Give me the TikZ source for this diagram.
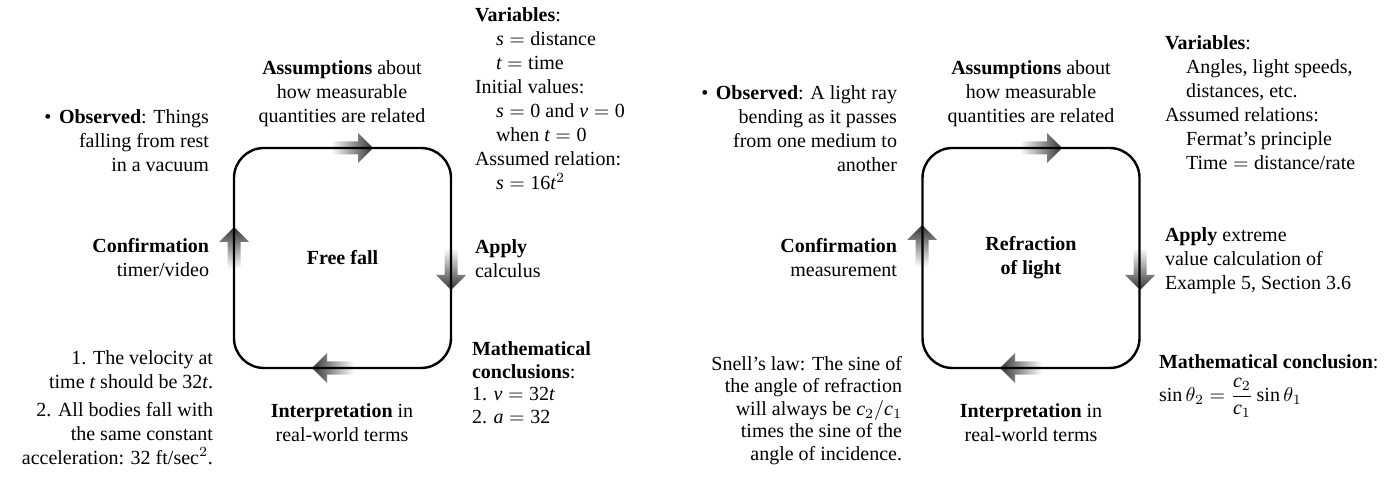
\documentclass[tikz,border=0pt]{standalone}
\usepackage{fontspec}
\setmainfont{Liberation Serif}
\usetikzlibrary{calc}
\newcommand{\mi}[1]{\ensuremath{\mathit{#1}}}
\newcommand{\eq}{\ensuremath{{}={}}}
\newcommand{\ind}{\hspace*{10.5pt}}
\newcommand{\bul}{\textbullet\hspace{3.8pt}}
% fuzzy arrows, tip at (#1,#2)
\newcommand{\fzR}[2]{\shade[fuzzR] (#1,#2) -- ({#1-15},{#2-15}) -- ({#1-15},{#2-6.5}) -- ({#1-42},{#2-6.5}) -- ({#1-42},{#2+6.5}) -- ({#1-15},{#2+6.5}) -- ({#1-15},{#2+15}) -- cycle;}
\newcommand{\fzL}[2]{\shade[fuzzL] (#1,#2) -- ({#1+15},{#2-15}) -- ({#1+15},{#2-6.5}) -- ({#1+42},{#2-6.5}) -- ({#1+42},{#2+6.5}) -- ({#1+15},{#2+6.5}) -- ({#1+15},{#2+15}) -- cycle;}
\newcommand{\fzD}[2]{\shade[fuzzD] (#1,#2) -- ({#1-15},{#2-15}) -- ({#1-6.5},{#2-15}) -- ({#1-6.5},{#2-42}) -- ({#1+6.5},{#2-42}) -- ({#1+6.5},{#2-15}) -- ({#1+15},{#2-15}) -- cycle;}
\newcommand{\fzU}[2]{\shade[fuzzU] (#1,#2) -- ({#1-15},{#2+15}) -- ({#1-6.5},{#2+15}) -- ({#1-6.5},{#2+42}) -- ({#1+6.5},{#2+42}) -- ({#1+6.5},{#2+15}) -- ({#1+15},{#2+15}) -- cycle;}
\begin{document}
\begin{tikzpicture}[x=0.5pt,y=-0.5pt,
  font=\fontsize{10}{12}\selectfont,
  txt/.style={inner sep=0pt, outer sep=0pt},
  tight/.style={font=\fontsize{10}{11.25}\selectfont},
  cyclebox/.style={draw, line width=1.2pt, rounded corners=15pt, minimum width=108.5pt, minimum height=110pt, inner sep=0pt, align=center},
  fuzzR/.style={left color=white, middle color=black!45, right color=black!80},
  fuzzL/.style={right color=white, middle color=black!45, left color=black!80},
  fuzzD/.style={top color=white, middle color=black!45, bottom color=black!80},
  fuzzU/.style={bottom color=white, middle color=black!45, top color=black!80}]
\useasboundingbox (0,0) rectangle (1396,480);

% ---------- left cycle ----------
\fzR{373}{148}
\fzD{451}{290}
\fzL{312}{368}
\fzU{234}{227}
\node[cyclebox] (box1) at (342.5,258) {\textbf{Free fall}};

\node[txt, anchor=north east, align=right] (obs1) at (209,110)
  {\bul\textbf{Observed}: Things\\falling from rest\\in a vacuum};
\node[txt, anchor=north, align=center] (ass1) at (342,61)
  {\textbf{Assumptions} about\\how measurable\\quantities are related};
\node[txt, anchor=north west, align=left] (var1) at (475,8)
  {\textbf{Variables}:\\
   \ind\mi{s}\eq distance\\
   \ind\mi{t}\eq time\\
   Initial values:\\
   \ind\mi{s}\eq 0 and \mi{v}\eq 0\\
   \ind when \mi{t}\eq 0\\
   Assumed relation:\\
   \ind\mi{s}\eq 16\mi{t}$^{2}$};
\node[txt, anchor=north east, align=right] (conf1) at (209,238)
  {\textbf{Confirmation}\\timer/video};
\node[txt, anchor=north west, align=left] (app1) at (475,240)
  {\textbf{Apply}\\calculus};
\node[txt, tight, anchor=north west, align=left] (mc1) at (472,342)
  {\textbf{Mathematical}\\\textbf{conclusions}:\\1. \mi{v}\eq 32\mi{t}\\2. \mi{a}\eq 32};
\node[txt, anchor=north, align=center] (int1) at (342,404)
  {\textbf{Interpretation} in\\real-world terms};
\node[txt, anchor=north east, align=right] (vel1) at (213,351)
  {1. The velocity at\\time \mi{t} should be 32\mi{t}.};
\node[txt, anchor=north east, align=right] (bod1) at (213,402)
  {2. All bodies fall with\\the same constant\\acceleration: 32 ft/sec$^{2}$.};

% ---------- right cycle ----------
\fzR{1062}{148}
\fzD{1140}{290}
\fzL{1000}{368}
\fzU{922}{225}
\node[cyclebox] (box2) at (1031,258) {\textbf{Refraction}\\\textbf{of light}};

\node[txt, anchor=north east, align=right] (obs2) at (897,86)
  {\bul\textbf{Observed}: A light ray\\bending as it passes\\from one medium to\\another};
\node[txt, anchor=north, align=center] (ass2) at (1031,61)
  {\textbf{Assumptions} about\\how measurable\\quantities are related};
\node[txt, anchor=north west, align=left] (var2) at (1165,36)
  {\textbf{Variables}:\\
   \ind Angles, light speeds,\\
   \ind distances, etc.\\
   Assumed relations:\\
   \ind Fermat’s principle\\
   \ind Time\eq distance/rate};
\node[txt, anchor=north east, align=right] (conf2) at (897,238)
  {\textbf{Confirmation}\\measurement};
\node[txt, anchor=north west, align=left] (app2) at (1165,228)
  {\textbf{Apply} extreme\\value calculation of\\Example 5, Section 3.6};
\node[txt, anchor=north west, align=left] (mc2) at (1159,355)
  {\textbf{Mathematical conclusion}:};
\node[txt, anchor=west] (eq2) at (1159,398)
  {$\sin\theta_2 = \displaystyle\frac{\mathit{c}_2}{\mathit{c}_1}\sin\theta_1$};
\node[txt, tight, anchor=north east, align=right] (snell) at (902,356)
  {Snell’s law: The sine of\\the angle of refraction\\will always be $\mathit{c}_2/\mathit{c}_1$\\times the sine of the\\angle of incidence.};
\node[txt, anchor=north, align=center] (int2) at (1031,404)
  {\textbf{Interpretation} in\\real-world terms};
\end{tikzpicture}
\end{document}
